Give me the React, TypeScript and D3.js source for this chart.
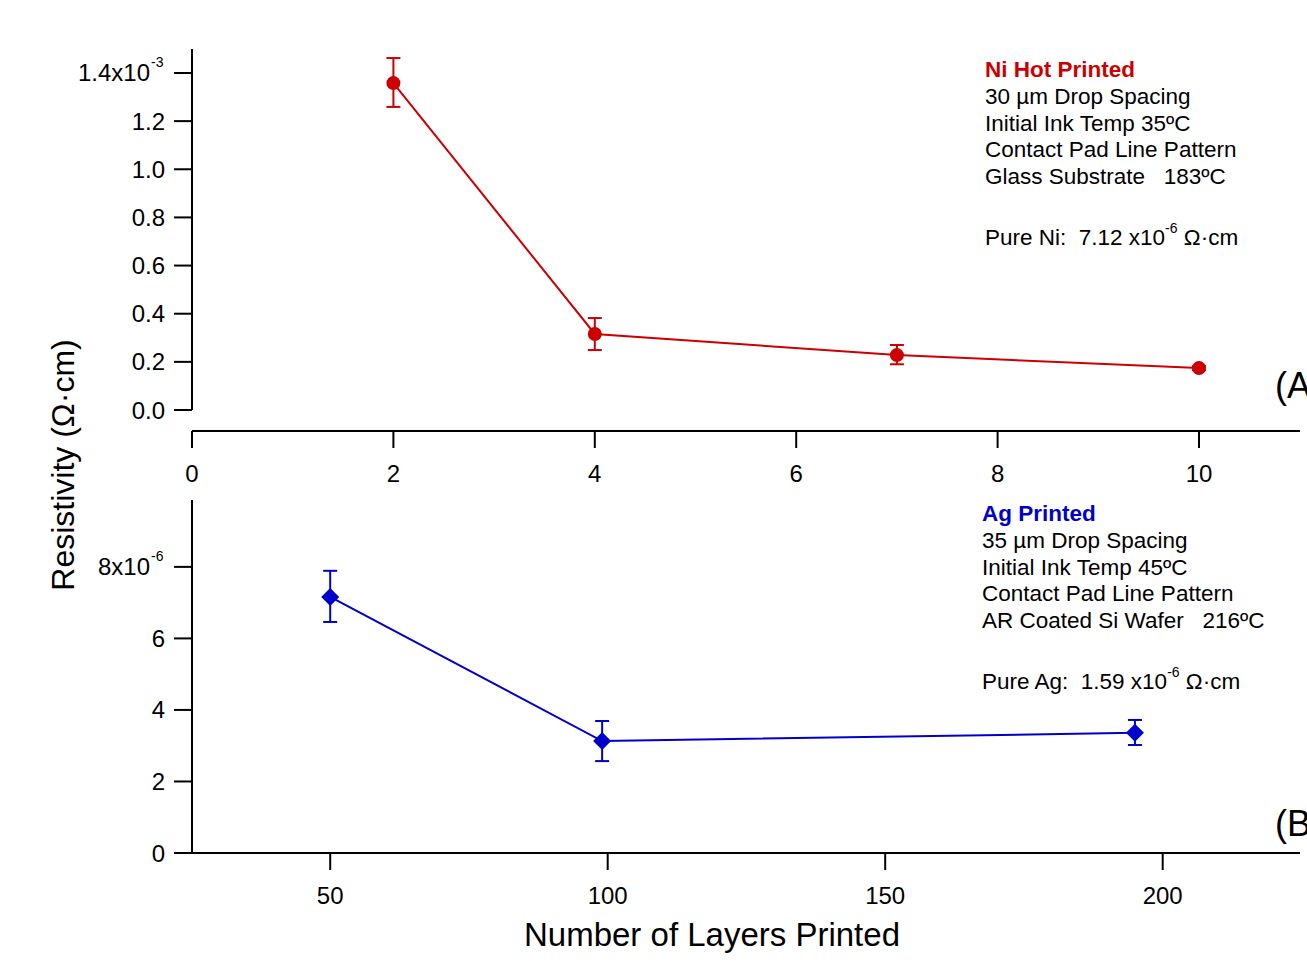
import React from 'react';
import * as d3 from 'd3';

// Ni hot printed (resistivity in units of 1e-3 Ω·cm)
const niLayers = [2, 4, 7, 10];
const niResistivity = [1.358, 0.316, 0.228, 0.174];
const niErrLow = [1.259, 0.249, 0.19, 0.166];
const niErrHigh = [1.462, 0.382, 0.27, 0.182];
const niYTicks = [0, 0.2, 0.4, 0.6, 0.8, 1.0, 1.2, 1.4];
const niXTicks = [0, 2, 4, 6, 8, 10];

// Ag printed (resistivity in units of 1e-6 Ω·cm)
const agLayers = [50, 99, 195];
const agResistivity = [7.16, 3.13, 3.36];
const agErrLow = [6.46, 2.57, 3.02];
const agErrHigh = [7.89, 3.69, 3.72];
const agYTicks = [0, 2, 4, 6, 8];
const agXTicks = [50, 100, 150, 200];

const niNotes = ['30 µm Drop Spacing', 'Initial Ink Temp 35ºC', 'Contact Pad Line Pattern', 'Glass Substrate   183ºC'];
const agNotes = ['35 µm Drop Spacing', 'Initial Ink Temp 45ºC', 'Contact Pad Line Pattern', 'AR Coated Si Wafer   216ºC'];

const W = 1307;
const H = 969;
const FONT = "'Liberation Sans', Arial, sans-serif";
const RED = '#cc0000';
const BLUE = '#0000cc';

const App: React.FC = () => {
  const left = 192;
  const right = 1300;

  // top panel scales
  const xTop = d3.scaleLinear().domain([0, 11]).range([left, left + 11 * 100.7]);
  const yTop = d3.scaleLinear().domain([0, 1.5]).range([410, 48.9]);
  const topAxisY = 431;

  // bottom panel scales
  const xBot = d3.scaleLinear().domain([25.1, 225]).range([left, left + (225 - 25.1) * 5.55]);
  const yBot = d3.scaleLinear().domain([0, 9.87]).range([853, 500]);

  const niPts = niLayers.map((x, i) => ({ x, y: niResistivity[i], lo: niErrLow[i], hi: niErrHigh[i] }));
  const agPts = agLayers.map((x, i) => ({ x, y: agResistivity[i], lo: agErrLow[i], hi: agErrHigh[i] }));

  const niLine = d3.line<{ x: number; y: number }>().x(d => xTop(d.x)).y(d => yTop(d.y));
  const agLine = d3.line<{ x: number; y: number }>().x(d => xBot(d.x)).y(d => yBot(d.y));

  const tickFont = 24;
  const noteFont = 22.5;

  return (
    <svg width={W} height={H} style={{ position: 'absolute', left: 0, top: 0, background: '#fff' }} fontFamily={FONT}>
      {/* ---------- top panel ---------- */}
      <line x1={left} x2={left} y1={yTop(1.5)} y2={yTop(0)} stroke="#000" strokeWidth={2} />
      {niYTicks.map((t, i) => (
        <g key={'nyt' + i}>
          <line x1={left - 18} x2={left} y1={yTop(t)} y2={yTop(t)} stroke="#000" strokeWidth={2} />
          <text x={i === niYTicks.length - 1 ? 150 : 165} y={yTop(t) + 8.5} textAnchor="end" fontSize={tickFont}>
            {i === niYTicks.length - 1 ? '1.4x10' : t.toFixed(1)}
          </text>
          {i === niYTicks.length - 1 && (
            <text x={151} y={yTop(t) - 6} fontSize={14}>-3</text>
          )}
        </g>
      ))}
      <line x1={left} x2={right} y1={topAxisY} y2={topAxisY} stroke="#000" strokeWidth={2} />
      {niXTicks.map(t => (
        <g key={'nxt' + t}>
          <line x1={xTop(t)} x2={xTop(t)} y1={topAxisY} y2={topAxisY + 17} stroke="#000" strokeWidth={2} />
          <text x={xTop(t)} y={topAxisY + 51} textAnchor="middle" fontSize={tickFont}>{t}</text>
        </g>
      ))}

      <path d={niLine(niPts) || ''} fill="none" stroke={RED} strokeWidth={2} />
      {niPts.map((d, i) => (
        <g key={'np' + i} stroke={RED} strokeWidth={2}>
          <line x1={xTop(d.x)} x2={xTop(d.x)} y1={yTop(d.lo)} y2={yTop(d.hi)} />
          <line x1={xTop(d.x) - 7} x2={xTop(d.x) + 7} y1={yTop(d.lo)} y2={yTop(d.lo)} />
          <line x1={xTop(d.x) - 7} x2={xTop(d.x) + 7} y1={yTop(d.hi)} y2={yTop(d.hi)} />
          <circle cx={xTop(d.x)} cy={yTop(d.y)} r={7} fill={RED} stroke="none" />
        </g>
      ))}

      <text x={985} y={77} fontSize={noteFont} fontWeight="bold" fill={RED}>Ni Hot Printed</text>
      {niNotes.map((s, i) => (
        <text key={'nn' + i} x={985} y={104 + i * 26.7} fontSize={noteFont} style={{ whiteSpace: 'pre' }}>{s}</text>
      ))}
      <text x={985} y={245} fontSize={noteFont} style={{ whiteSpace: 'pre' }}>
        {'Pure Ni:  7.12 x10'}
        <tspan fontSize={14} dy={-12}>-6</tspan>
        <tspan dy={12}>{' Ω·cm'}</tspan>
      </text>
      <text x={1275} y={398} fontSize={36}>(A)</text>

      {/* ---------- bottom panel ---------- */}
      <line x1={left} x2={left} y1={yBot(9.87)} y2={yBot(0)} stroke="#000" strokeWidth={2} />
      {agYTicks.map((t, i) => (
        <g key={'ayt' + i}>
          <line x1={left - 18} x2={left} y1={yBot(t)} y2={yBot(t)} stroke="#000" strokeWidth={2} />
          <text x={i === agYTicks.length - 1 ? 150 : 165} y={yBot(t) + 8.5} textAnchor="end" fontSize={tickFont}>
            {i === agYTicks.length - 1 ? '8x10' : String(t)}
          </text>
          {i === agYTicks.length - 1 && (
            <text x={151} y={yBot(t) - 6} fontSize={14}>-6</text>
          )}
        </g>
      ))}
      <line x1={175} x2={right} y1={yBot(0)} y2={yBot(0)} stroke="#000" strokeWidth={2} />
      {agXTicks.map(t => (
        <g key={'axt' + t}>
          <line x1={xBot(t)} x2={xBot(t)} y1={yBot(0)} y2={yBot(0) + 17} stroke="#000" strokeWidth={2} />
          <text x={xBot(t)} y={yBot(0) + 51} textAnchor="middle" fontSize={tickFont}>{t}</text>
        </g>
      ))}

      <path d={agLine(agPts) || ''} fill="none" stroke={BLUE} strokeWidth={2} />
      {agPts.map((d, i) => {
        const cx = xBot(d.x);
        const cy = yBot(d.y);
        return (
          <g key={'ap' + i} stroke={BLUE} strokeWidth={2}>
            <line x1={cx} x2={cx} y1={yBot(d.lo)} y2={yBot(d.hi)} />
            <line x1={cx - 7} x2={cx + 7} y1={yBot(d.lo)} y2={yBot(d.lo)} />
            <line x1={cx - 7} x2={cx + 7} y1={yBot(d.hi)} y2={yBot(d.hi)} />
            <path d={`M${cx},${cy - 9}L${cx + 9},${cy}L${cx},${cy + 9}L${cx - 9},${cy}Z`} fill={BLUE} stroke="none" />
          </g>
        );
      })}

      <text x={982} y={521} fontSize={noteFont} fontWeight="bold" fill={BLUE}>Ag Printed</text>
      {agNotes.map((s, i) => (
        <text key={'an' + i} x={982} y={548 + i * 26.5} fontSize={noteFont} style={{ whiteSpace: 'pre' }}>{s}</text>
      ))}
      <text x={982} y={689} fontSize={noteFont} style={{ whiteSpace: 'pre' }}>
        {'Pure Ag:  1.59 x10'}
        <tspan fontSize={14} dy={-12}>-6</tspan>
        <tspan dy={12}>{' Ω·cm'}</tspan>
      </text>
      <text x={1275} y={836} fontSize={36}>(B)</text>

      {/* ---------- axis titles ---------- */}
      <text transform="translate(74,465) rotate(-90)" textAnchor="middle" fontSize={32}>Resistivity (Ω·cm)</text>
      <text x={712} y={946} textAnchor="middle" fontSize={33}>Number of Layers Printed</text>
    </svg>
  );
};

export default App;
